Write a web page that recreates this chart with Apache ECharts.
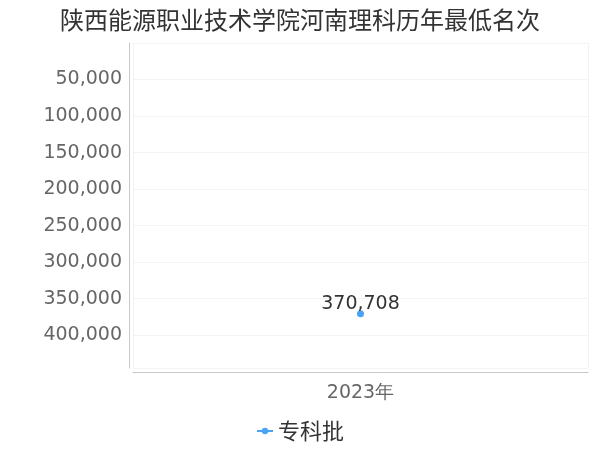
<!DOCTYPE html>
<html>
<head>
<meta charset="utf-8">
<script src="https://cdn.jsdelivr.net/npm/echarts@6/dist/echarts.min.js"></script>
<style>
  html, body { margin: 0; padding: 0; background: #fff; }
  #main { width: 600px; height: 450px; }
</style>
</head>
<body>
<div id="main"></div>
<script>
var years = ['2023年'];
var seriesName = '专科批';
var rankValues = [370708];

var chart = echarts.init(document.getElementById('main'));

var option = {
  title: {
    text: '陕西能源职业技术学院河南理科历年最低名次',
    left: 'center',
    top: 3,
    textStyle: {
      fontSize: 24,
      fontWeight: 'normal',
      color: '#333',
      fontFamily: 'Noto Sans CJK SC'
    }
  },
  color: ['#4aa3f5'],
  legend: {
    bottom: 3,
    left: 'center',
    itemWidth: 16,
    itemHeight: 8,
    textStyle: { fontSize: 22, color: '#333', fontFamily: 'Noto Sans CJK SC' },
    data: [seriesName]
  },
  grid: {
    left: 133,
    right: 12,
    top: 43,
    bottom: 82
  },
  xAxis: {
    type: 'category',
    data: years,
    position: 'bottom',
    offset: 4,
    axisLine: { onZero: false, lineStyle: { color: '#c8c8c8' } },
    axisTick: { alignWithLabel: true, length: 4, lineStyle: { color: '#c8c8c8' } },
    axisLabel: { fontSize: 19, color: '#666', margin: 12, fontFamily: 'DejaVu Sans' },
    splitLine: { show: true, lineStyle: { color: '#f3f3f3' } }
  },
  yAxis: {
    type: 'value',
    inverse: true,
    min: 0,
    max: 444850,
    interval: 50000,
    offset: 4,
    axisLine: { show: true, lineStyle: { color: '#c8c8c8' } },
    axisTick: { show: false },
    axisLabel: {
      fontSize: 19,
      color: '#666',
      margin: 7,
      padding: [4, 0, 0, 0],
      fontFamily: 'DejaVu Sans',
      showMinLabel: false,
      showMaxLabel: false,
      formatter: function (v) {
        return v.toLocaleString('en-US');
      }
    },
    splitLine: { lineStyle: { color: '#f3f3f3' } }
  },
  series: [
    {
      name: seriesName,
      type: 'line',
      data: rankValues,
      symbol: 'circle',
      symbolSize: 7,
      label: {
        show: true,
        position: 'top',
        distance: 0,
        offset: [0, 3],
        fontSize: 19,
        color: '#333',
        fontFamily: 'DejaVu Sans',
        formatter: function (p) {
          return p.value.toLocaleString('en-US');
        }
      }
    }
  ]
};

chart.setOption(option);
</script>
</body>
</html>
